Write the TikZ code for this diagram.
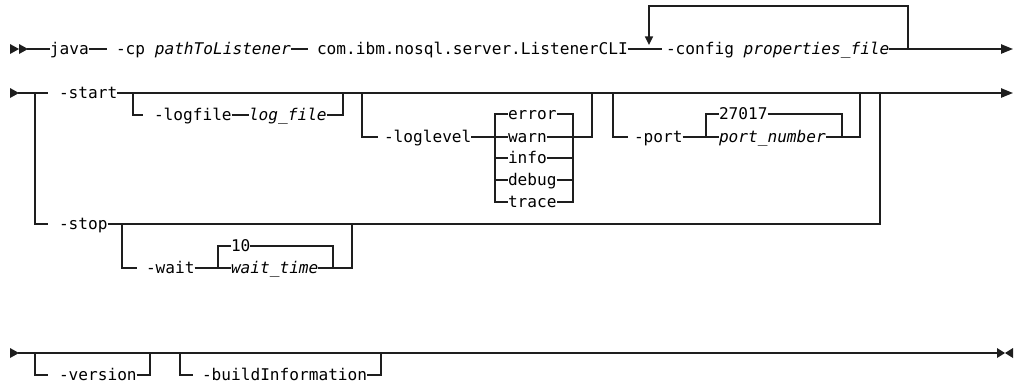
\documentclass[tikz,border=0pt]{standalone}
\usepackage{fontspec}
\setmonofont{DejaVu Sans Mono}
\usetikzlibrary{arrows.meta}
\definecolor{railc}{HTML}{1E1E1E}
\begin{document}
\begin{tikzpicture}[x=0.75pt,y=-0.75pt,
  rail/.style={draw=railc,line width=1.1pt,line join=miter},
  lbl/.style={inner sep=0pt,outer sep=0pt,anchor=west,text height=9.5pt,text depth=2pt,
    font=\ttfamily\fontsize{12.1pt}{14pt}\selectfont,text=black},
  endtip/.style={-{Triangle[length=9pt,width=7pt]}},
  looptip/.style={-{Triangle[length=6.5pt,width=6pt]}}]
\useasboundingbox (0,0) rectangle (1018,383);

% ---------- row 1: command and repeated -config ----------
\fill[railc] (10,44) -- (10,54) -- (19,49) -- cycle;
\fill[railc] (19,44) -- (19,54) -- (28,49) -- cycle;
\coordinate (s1) at (27,49);
\node[lbl] (java) at (50,49) {java};
\node[lbl] (cp) at (116,49) {-cp \textit{pathToListener}};
\node[lbl] (com) at (317,49) {com.ibm.nosql.server.ListenerCLI};
\node[lbl] (cfg) at (666,49) {-config \textit{properties\_file}};
\coordinate (j1) at (107,49);
\coordinate (j2) at (308,49);
\coordinate (j3) at (662,49);
\coordinate (lpR) at (908,49);
\coordinate (lpRT) at (908,6);
\coordinate (lpLT) at (649,6);
\coordinate (lpA) at (649,45);
\coordinate (e1) at (1013,49);
\draw[rail] (s1) -- (java.west);
\draw[rail] (java.east) -- (j1);
\draw[rail] (cp.east) -- (j2);
\draw[rail] (com.east) -- (j3);
\draw[rail,endtip] (cfg.east) -- (e1);
\draw[rail,looptip] (lpR) -- (lpRT) -- (lpLT) -- (lpA);

% ---------- row 2: -start / -stop ----------
\fill[railc] (10,88) -- (10,98) -- (19,93) -- cycle;
\coordinate (s2) at (18,93);
\coordinate (b2) at (35,93);
\coordinate (b2s) at (35,224);
\coordinate (b2e) at (48,224);
\coordinate (b2a) at (48,93);
\coordinate (e2) at (1013,93);
\node[lbl] (start) at (59,93) {-start};
\node[lbl] (stop) at (59,224) {-stop};
\draw[rail] (s2) -- (b2a);
\draw[rail] (b2) -- (b2s) -- (b2e);
\draw[rail,endtip] (start.east) -- (e2);

% -logfile
\node[lbl] (logf) at (154,115) {-logfile};
\node[lbl] (logfv) at (249,115) {\textit{log\_file}};
\draw[rail] (133,93) -- (133,115) -- (143,115);
\draw[rail] (logf.east) -- (logfv.west);
\draw[rail] (logfv.east) -- (343,115) -- (343,93);

% -loglevel
\node[lbl] (loglvl) at (384,137) {-loglevel};
\node[lbl] (lerror) at (508,114) {error};
\node[lbl] (lwarn) at (508,137) {warn};
\node[lbl] (linfo) at (508,158) {info};
\node[lbl] (ldebug) at (508,180) {debug};
\node[lbl] (ltrace) at (508,202) {trace};
\draw[rail] (362,93) -- (362,137) -- (378,137);
\draw[rail] (loglvl.east) -- (lwarn.west);
\draw[rail] (lerror.west) -- (495,114) -- (495,202) -- (ltrace.west);
\draw[rail] (495,158) -- (linfo.west);
\draw[rail] (495,180) -- (ldebug.west);
\draw[rail] (lerror.east) -- (573,114) -- (573,202) -- (ltrace.east);
\draw[rail] (lwarn.east) -- (573,137);
\draw[rail] (linfo.east) -- (573,158);
\draw[rail] (ldebug.east) -- (573,180);
\draw[rail] (573,137) -- (592,137) -- (592,93);

% -port
\node[lbl] (port) at (634,137) {-port};
\node[lbl] (pdef) at (719,114) {27017};
\node[lbl] (pnum) at (719,137) {\textit{port\_number}};
\draw[rail] (613,93) -- (613,137) -- (628,137);
\draw[rail] (port.east) -- (pnum.west);
\draw[rail] (pdef.west) -- (706,114) -- (706,137);
\draw[rail] (pdef.east) -- (842,114) -- (842,137) -- (pnum.east);
\draw[rail] (842,137) -- (860,137) -- (860,93);

% -stop and -wait
\draw[rail] (stop.east) -- (880,224) -- (880,93);
\node[lbl] (wait) at (146,268) {-wait};
\node[lbl] (wdef) at (231,246) {10};
\node[lbl] (wtime) at (231,268) {\textit{wait\_time}};
\draw[rail] (122,224) -- (122,268) -- (137,268);
\draw[rail] (wait.east) -- (wtime.west);
\draw[rail] (wdef.west) -- (218,246) -- (218,268);
\draw[rail] (wdef.east) -- (333,246) -- (333,268) -- (wtime.east);
\draw[rail] (333,268) -- (352,268) -- (352,224);

% ---------- row 3: -version / -buildInformation ----------
\fill[railc] (10,348) -- (10,358) -- (19,353) -- cycle;
\coordinate (s3) at (18,353);
\coordinate (e3) at (998,353);
\draw[rail] (s3) -- (e3);
\fill[railc] (997,348) -- (997,358) -- (1005,353) -- cycle;
\fill[railc] (1013,348) -- (1013,358) -- (1005,353) -- cycle;
\node[lbl] (ver) at (59,375) {-version};
\node[lbl] (build) at (202,375) {-buildInformation};
\draw[rail] (35,353) -- (35,375) -- (48,375);
\draw[rail] (ver.east) -- (150,375) -- (150,353);
\draw[rail] (180,353) -- (180,375) -- (193,375);
\draw[rail] (build.east) -- (381,375) -- (381,353);
\end{tikzpicture}
\end{document}
